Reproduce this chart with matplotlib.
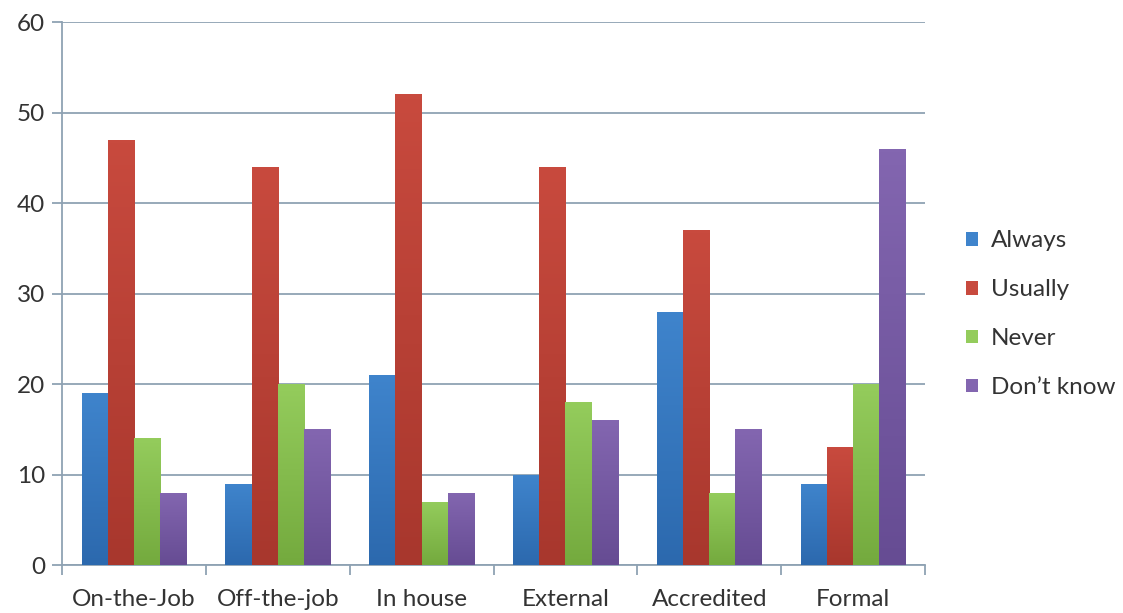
import numpy as np
import matplotlib
matplotlib.use("Agg")
import matplotlib.pyplot as plt
from matplotlib.colors import LinearSegmentedColormap

# data
categories = ["On-the-Job", "Off-the-job", "In house", "External", "Accredited", "Formal"]
always = [19, 9, 21, 10, 28, 9]
usually = [47, 44, 52, 44, 37, 13]
never = [14, 20, 7, 18, 8, 20]
dont_know = [8, 15, 8, 16, 15, 46]

series = [("Always", always), ("Usually", usually), ("Never", never), ("Don\u2019t know", dont_know)]
# (top colour, bottom colour) per series, excel-2007 style gradient
colors = [("#3f84cc", "#2c69ae"), ("#c84a3e", "#a8372d"),
          ("#94cc5c", "#74aa3e"), ("#8366b0", "#664c93")]

plt.rcParams["font.family"] = ["Lato", "DejaVu Sans"]
text_col = "#333333"
grid_col = "#8fa2b3"
fs = 17.5

fig = plt.figure(figsize=(11.23, 6.13), dpi=100)
ax = fig.add_axes([0.0552, 0.0783, 0.7685, 0.8858])

x = np.arange(len(categories))
w = 1 / 5.5
for i, (name, vals) in enumerate(series):
    top, bot = colors[i]
    bars = ax.bar(x + (i - 1.5) * w, vals, w, color=top, label=name, zorder=2,
                  linewidth=0)
    cmap = LinearSegmentedColormap.from_list(name, [bot, top])
    grad = np.linspace(0, 1, 100).reshape(-1, 1)
    for b in bars:
        x0, y0 = b.get_x(), b.get_y()
        im = ax.imshow(grad, cmap=cmap, aspect="auto", origin="lower",
                       extent=[x0, x0 + b.get_width(), y0, y0 + b.get_height()],
                       zorder=3)
        im.set_clip_path(b)

ax.set_xlim(-0.5, len(categories) - 0.5)
ax.set_ylim(0, 60)
ax.set_yticks(range(0, 61, 10))
ax.yaxis.grid(True, color=grid_col, linewidth=1.3, zorder=0)
ax.set_axisbelow(True)

ax.set_xticks(x)
ax.set_xticklabels(categories)
ax.set_xticks(np.arange(-0.5, len(categories)), minor=True)
ax.tick_params(axis="x", which="major", length=0, pad=17, labelsize=fs, labelcolor=text_col)
ax.tick_params(axis="x", which="minor", length=7, width=1.3, color=grid_col, direction="out")
ax.tick_params(axis="y", length=7, width=1.3, color=grid_col, pad=5, labelsize=fs,
               labelcolor=text_col)

for s in ["top", "right"]:
    ax.spines[s].set_visible(False)
for s in ["left", "bottom"]:
    ax.spines[s].set_color(grid_col)
    ax.spines[s].set_linewidth(1.3)

leg = fig.legend(loc="upper left", bbox_to_anchor=(0.841, 0.66), frameon=False,
                 fontsize=fs, handlelength=0.5, handleheight=0.5, handletextpad=0.5,
                 labelspacing=1.15, labelcolor=text_col)

fig.savefig("out.png", dpi=100)
